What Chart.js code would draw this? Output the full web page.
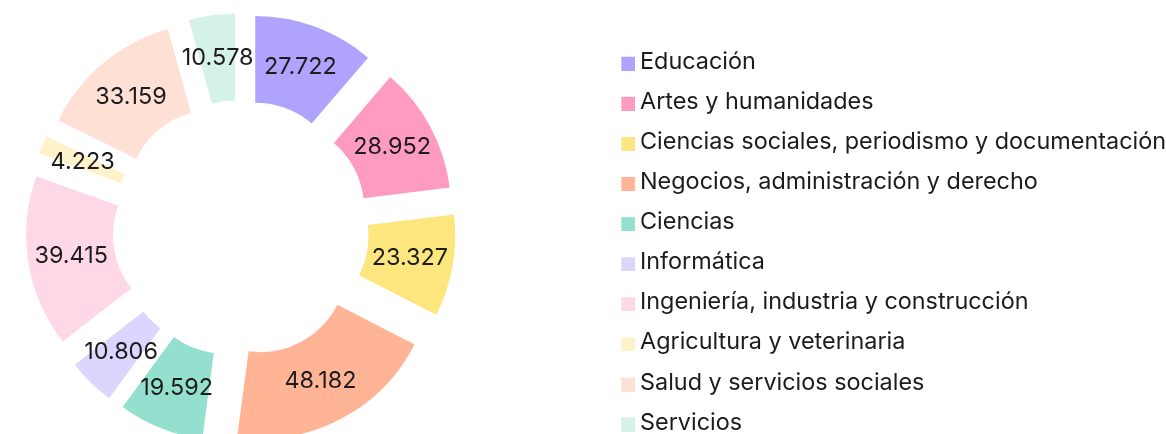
<!DOCTYPE html>
<html>
<head>
<meta charset="utf-8">
<script src="https://cdn.jsdelivr.net/npm/chart.js@4.4.1/dist/chart.umd.min.js"></script>
<style>
  html, body { margin: 0; padding: 0; background: #fff; overflow: hidden; width: 1166px; height: 434px; }
  /* el lienzo es mas grande que la ventana: asi la dona queda recortada como en el original */
  #caja { position: absolute; left: -128px; top: 0; width: 1334px; height: 457px; }
</style>
</head>
<body>
<div id="caja"><canvas id="grafico"></canvas></div>
<script>
const categorias = [
	'Educación',
	'Artes y humanidades',
	'Ciencias sociales, periodismo y documentación',
	'Negocios, administración y derecho',
	'Ciencias',
	'Informática',
	'Ingeniería, industria y construcción',
	'Agricultura y veterinaria',
	'Salud y servicios sociales',
	'Servicios'
]
const valores = [27722, 28952, 23327, 48182, 19592, 10806, 39415, 4223, 33159, 10578]
const etiquetas = ['27.722', '28.952', '23.327', '48.182', '19.592', '10.806', '39.415', '4.223', '33.159', '10.578']
const colores = ['#b0a3fd', '#ff9ac0', '#fee67f', '#ffb595', '#95dfce', '#dcd6fe', '#fed8e7', '#fef2cb', '#ffe0d5', '#d4f1ea']

const FUENTE = 'Inter'
const TAM = 23.4
const SEPARACION = 41.6 // cada porción se desplaza hacia afuera

// ancho del texto más largo de la leyenda, para colocarla donde corresponde
const medidor = document.createElement('canvas').getContext('2d')
medidor.font = `${TAM}px ${FUENTE}`
const anchoMax = Math.max(...categorias.map(t => medidor.measureText(t).width))

// cuadradito de color de la leyenda
const muestra = color => {
	const c = document.createElement('canvas')
	c.width = 16
	c.height = 18
	const g = c.getContext('2d')
	g.fillStyle = color
	g.fillRect(2, 4, 14, 14)
	return c
}

const desplazar = {
	id: 'desplazar',
	afterDatasetUpdate(chart, args) {
		args.meta.data.forEach(arco => {
			const medio = (arco.startAngle + arco.endAngle) / 2
			arco.x += Math.cos(medio) * SEPARACION
			arco.y += Math.sin(medio) * SEPARACION
		})
	}
}

const rotulos = {
	id: 'rotulos',
	afterDatasetsDraw(chart) {
		const {ctx} = chart
		const meta = chart.getDatasetMeta(0)
		ctx.save()
		ctx.font = `${TAM}px ${FUENTE}`
		ctx.fillStyle = '#1c1c1c'
		ctx.textAlign = 'center'
		ctx.textBaseline = 'middle'
		meta.data.forEach((arco, i) => {
			const {x, y} = arco.getCenterPoint()
			ctx.fillText(etiquetas[i], x, y)
		})
		ctx.restore()
	}
}

const chart = new Chart(document.getElementById('grafico'), {
	type: 'doughnut',
	data: {
		labels: categorias,
		datasets: [{
			data: valores,
			backgroundColor: colores,
			borderWidth: 0,
			hoverOffset: 0
		}]
	},
	options: {
		responsive: true,
		maintainAspectRatio: false,
		animation: false,
		radius: 173.5,
		cutout: '50%',
		layout: {
			// la leyenda suma 10px propios a su ancho
			padding: {left: 0, right: Math.max(556 - anchoMax, 0), top: 0, bottom: 0}
		},
		plugins: {
			tooltip: {enabled: false},
			legend: {
				position: 'right',
				align: 'start',
				title: {display: true, text: '', font: {size: 12}, padding: {top: 18.9, bottom: 0}},
				labels: {
					usePointStyle: true,
					pointStyleWidth: 2,
					padding: 16.7,
					color: '#1c1c1c',
					font: {family: FUENTE, size: TAM},
					generateLabels(chart) {
						const items = Chart.overrides.doughnut.plugins.legend.labels.generateLabels(chart)
						return items.map(item => ({...item, pointStyle: muestra(item.fillStyle)}))
					}
				}
			}
		}
	},
	plugins: [desplazar, rotulos]
})
</script>
</body>
</html>
